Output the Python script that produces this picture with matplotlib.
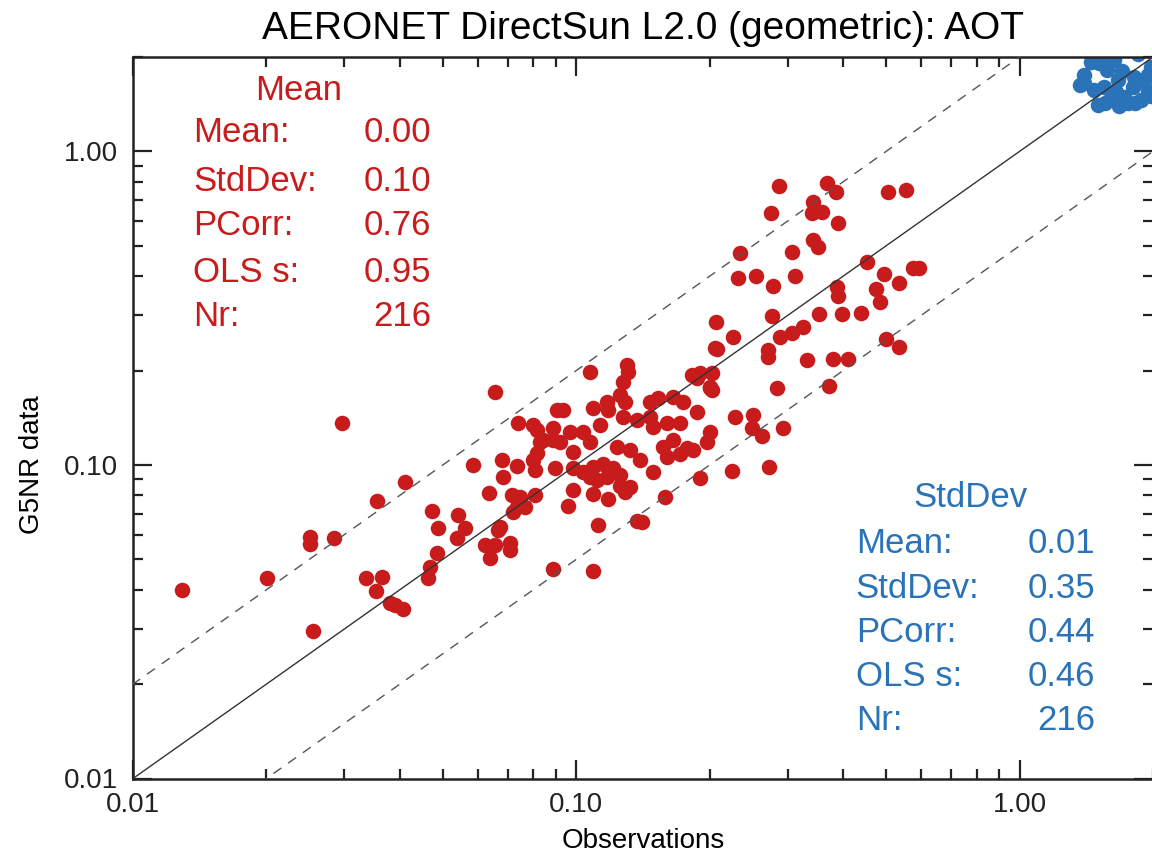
import matplotlib
matplotlib.use("Agg")
import matplotlib.pyplot as plt
from matplotlib.ticker import FixedLocator, FixedFormatter, NullFormatter, LogLocator
import numpy as np

plt.rcParams['font.family'] = ['Liberation Sans', 'DejaVu Sans']

# red series (observations, model)
obs_red = [0.0129, 0.0201, 0.0251, 0.0251, 0.0284, 0.0296, 0.0255, 0.0336, 0.0365, 0.0354,
           0.0380, 0.0390, 0.0407, 0.0356, 0.0411, 0.0473, 0.0488, 0.0486, 0.0468, 0.0463,
           0.0542, 0.0562, 0.0539, 0.0586, 0.0656, 0.0623, 0.0656, 0.0640, 0.0710, 0.0710,
           0.0674, 0.0667, 0.0636, 0.0681, 0.0736, 0.0684, 0.0717, 0.0748, 0.0736, 0.0767,
           0.0808, 0.0721, 0.0740, 0.0800, 0.0817, 0.0888, 0.0906, 0.0829, 0.0817, 0.0800,
           0.0808, 0.0888, 0.0897, 0.0888, 0.1093, 0.2060, 0.1304, 0.1310, 0.1277, 0.1075,
           0.1828, 0.1876, 0.2007, 0.2028, 0.0935, 0.1093, 0.1175, 0.1181, 0.1257, 0.1290,
           0.1469, 0.1531, 0.1656, 0.1744, 0.1876, 0.1277, 0.1373, 0.1469, 0.1492, 0.1605,
           0.1717, 0.2007, 0.1976, 0.0969, 0.1037, 0.1133, 0.0842, 0.0920, 0.0985, 0.1075,
           0.1238, 0.1324, 0.1395, 0.1572, 0.1656, 0.1781, 0.1837, 0.1605, 0.1717, 0.0985,
           0.1037, 0.1093, 0.1151, 0.1212, 0.1257, 0.1075, 0.1115, 0.1175, 0.1492, 0.1257,
           0.1324, 0.1290, 0.0985, 0.1093, 0.1181, 0.0959, 0.1905, 0.1588, 0.1121, 0.1373,
           0.1409, 0.2872, 0.3687, 0.3863, 0.5062, 0.5558, 0.3428, 0.3410, 0.3592, 0.2756,
           0.3903, 0.3428, 0.3518, 0.3073, 0.2346, 0.2322, 0.2549, 0.2785, 0.3122, 0.4538,
           0.4958, 0.5359, 0.5735, 0.5916, 0.3883, 0.3903, 0.4755, 0.4855, 0.2770, 0.3536,
           0.3985, 0.4398, 0.2070, 0.2262, 0.2888, 0.3073, 0.3254, 0.2081, 0.2713, 0.2713,
           0.3322, 0.3803, 0.4111, 0.5009, 0.5359, 0.1905, 0.2028, 0.2007, 0.2843, 0.3725,
           0.2286, 0.2509, 0.2496, 0.2630, 0.2933, 0.2250, 0.2728]
mod_red = [0.0399, 0.0436, 0.0589, 0.0560, 0.0585, 0.136, 0.0295, 0.0436, 0.0439, 0.0396,
           0.0363, 0.0358, 0.0347, 0.0768, 0.0883, 0.0713, 0.0630, 0.0524, 0.0473, 0.0436,
           0.0693, 0.0630, 0.0585, 0.100, 0.171, 0.0556, 0.0556, 0.0505, 0.0564, 0.0536,
           0.0634, 0.0620, 0.0814, 0.104, 0.0993, 0.0916, 0.0802, 0.0791, 0.0735, 0.0735,
           0.0802, 0.0708, 0.136, 0.134, 0.129, 0.131, 0.150, 0.118, 0.109, 0.104,
           0.0964, 0.120, 0.0978, 0.0466, 0.0459, 0.236, 0.208, 0.198, 0.184, 0.198,
           0.194, 0.189, 0.177, 0.173, 0.150, 0.152, 0.159, 0.150, 0.167, 0.159,
           0.159, 0.164, 0.165, 0.159, 0.147, 0.142, 0.139, 0.142, 0.132, 0.136,
           0.136, 0.127, 0.118, 0.127, 0.127, 0.134, 0.120, 0.118, 0.110, 0.118,
           0.114, 0.112, 0.104, 0.114, 0.120, 0.113, 0.112, 0.106, 0.108, 0.0978,
           0.0950, 0.0985, 0.101, 0.0978, 0.0929, 0.0916, 0.0896, 0.0916, 0.0950, 0.0857,
           0.0851, 0.0820, 0.0832, 0.0808, 0.0779, 0.0740, 0.0909, 0.0791, 0.0644, 0.0663,
           0.0658, 0.776, 0.793, 0.743, 0.743, 0.754, 0.690, 0.637, 0.641, 0.637,
           0.591, 0.522, 0.496, 0.478, 0.475, 0.395, 0.401, 0.372, 0.401, 0.444,
           0.407, 0.381, 0.425, 0.425, 0.370, 0.346, 0.364, 0.331, 0.299, 0.303,
           0.303, 0.305, 0.286, 0.256, 0.256, 0.264, 0.276, 0.234, 0.233, 0.221,
           0.216, 0.218, 0.218, 0.252, 0.238, 0.197, 0.197, 0.176, 0.176, 0.179,
           0.142, 0.144, 0.131, 0.124, 0.131, 0.0957, 0.0985]

# blue series
obs_blue = [1.447, 1.508, 1.395, 1.469, 1.547, 1.500, 1.605, 1.717, 1.753, 1.876,
            1.945, 1.905, 1.809, 1.664, 1.579, 1.630, 1.976, 1.70, 1.80, 1.65,
            1.95, 1.85, 1.52, 1.37, 1.56, 1.68, 1.82, 1.98, 1.40]
mod_blue = [1.930, 1.915, 1.654, 1.571, 1.606, 1.407, 1.482, 1.492, 1.428, 1.460,
            1.571, 1.691, 1.729, 1.691, 1.820, 1.958, 1.860, 1.80, 1.60, 1.55,
            1.75, 2.05, 2.02, 1.63, 1.43, 1.40, 1.43, 1.50, 1.75]

stat_names = ['Mean:', 'StdDev:', 'PCorr:', 'OLS s:', 'Nr:']
red_stats = ['0.00', '0.10', '0.76', '0.95', '216']
blue_stats = ['0.01', '0.35', '0.44', '0.46', '216']

red = '#C81B1B'
blue = '#2B73B8'

fig = plt.figure(figsize=(11.52, 8.56), dpi=100)
ax = fig.add_axes([133 / 1152, 77.5 / 856, 1020 / 1152, 721.5 / 856])

ax.scatter(obs_red, mod_red, s=125, color=red, linewidths=0, zorder=2)
ax.scatter(obs_blue, mod_blue, s=125, color=blue, linewidths=0, zorder=2)

ref = np.array([0.005, 5.0])
ax.plot(ref, ref, color='#333333', lw=1.0, zorder=3)
ax.plot(ref, ref * 2, color='#555555', lw=1.0, ls=(0, (7, 6)), zorder=3)
ax.plot(ref, ref / 2, color='#555555', lw=1.0, ls=(0, (7, 6)), zorder=3)

ax.set_xscale('log')
ax.set_yscale('log')
ax.set_xlim(0.01, 2.0)
ax.set_ylim(0.01, 2.0)

majors = [0.01, 0.1, 1.0]
labels = ['0.01', '0.10', '1.00']
for axis in (ax.xaxis, ax.yaxis):
    axis.set_major_locator(FixedLocator(majors))
    axis.set_major_formatter(FixedFormatter(labels))
    axis.set_minor_locator(LogLocator(base=10, subs=np.arange(2, 10)))
    axis.set_minor_formatter(NullFormatter())

ax.tick_params(which='both', direction='in', top=True, right=True, colors='#222222', labelsize=20)
ax.tick_params(which='major', length=14, width=1.6)
ax.tick_params(which='minor', length=7, width=1.6)
ax.tick_params(axis='y', pad=11)
ax.tick_params(axis='x', pad=10)
for sp in ax.spines.values():
    sp.set_linewidth(1.8)
    sp.set_color('#222222')

ax.set_xlabel('Observations', fontsize=20)
ax.xaxis.set_label_coords(0.5, -0.068)
ax.set_ylabel('G5NR data', fontsize=20, va='center')
ax.yaxis.set_label_coords(-0.099, 0.4345)

fig.text(642.5 / 1152, 1 - 29 / 856, 'AERONET DirectSun L2.0 (geometric): AOT',
         ha='center', va='center', fontsize=28)

# stats boxes
row_y_red = [0.8947, 0.8281, 0.7658, 0.702, 0.641]
ax.text(0.162, 0.954, 'Mean', color=red, fontsize=25, ha='center', va='center', transform=ax.transAxes)
for name, val, yy in zip(stat_names, red_stats, row_y_red):
    ax.text(0.0589, yy, name, color=red, fontsize=25, ha='left', va='center', transform=ax.transAxes)
    ax.text(0.2924, yy, val, color=red, fontsize=25, ha='right', va='center', transform=ax.transAxes)

row_y_blue = [0.3264, 0.264, 0.2017, 0.1407, 0.0797]
ax.text(0.8214, 0.390, 'StdDev', color=blue, fontsize=25, ha='center', va='center', transform=ax.transAxes)
for name, val, yy in zip(stat_names, blue_stats, row_y_blue):
    ax.text(0.7085, yy, name, color=blue, fontsize=25, ha='left', va='center', transform=ax.transAxes)
    ax.text(0.943, yy, val, color=blue, fontsize=25, ha='right', va='center', transform=ax.transAxes)

fig.savefig('out.png', dpi=100)
